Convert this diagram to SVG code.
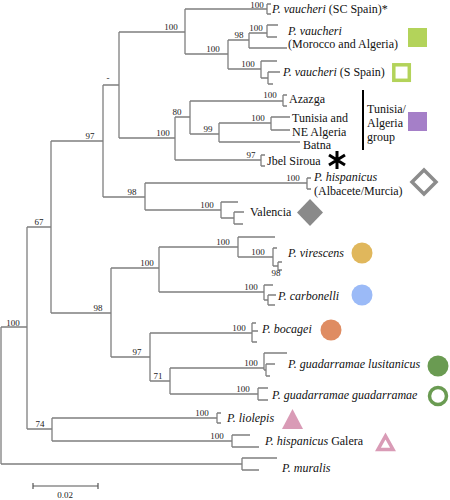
<svg xmlns="http://www.w3.org/2000/svg" width="450" height="500" viewBox="0 0 450 500">
<style>
.br{fill:none;stroke:#7f7f7f;stroke-width:1.3}
.bs{font-family:"Liberation Serif","Times New Roman",serif;font-size:9px;fill:#222;text-anchor:middle}
.lf{font-family:"Liberation Serif","Times New Roman",serif;font-size:12px;fill:#111}
.it{font-style:italic}
</style>
<rect width="450" height="500" fill="#fff"/>
<g id="connectors" class="br">
<path d="M1,327V464M1,327H27M1,464H242"/>
<path d="M27,227V429M27,227H51M27,429H52"/>
<path d="M52,418V441M52,418H217M52,441H232"/>
<path d="M217,413V423M217,413H221M217,423H221"/>
<path d="M232,435V447M232,435H250M232,447H259"/>
<path d="M242,458V470M242,458H277M242,470H259"/>
<path d="M51,141V313M51,141H103M51,313H111"/>
<path d="M103,85V197M103,85H119M103,197H145"/>
<path d="M119,32V138M119,32H185M119,138H175"/>
<path d="M185,9V54M185,9H267M185,54H228"/>
<path d="M267,4V14M267,4H271M267,14H271"/>
<path d="M228,40V69M228,40H249M228,69H261"/>
<path d="M249,33V48M249,33H267M249,48H287"/>
<path d="M267,25V37M267,25H278M267,37H277"/>
<path d="M261,61V78M261,61H277M261,78H268"/>
<path d="M268,72V84M268,72H280M268,84H273"/>
<path d="M175,117V160M175,117H190M175,160H261"/>
<path d="M190,101V134M190,101H283M190,134H219"/>
<path d="M283,95V106M283,95H287M283,106H287"/>
<path d="M219,123V142M219,123H271M219,142H300"/>
<path d="M271,117V130M271,117H290M271,130H290"/>
<path d="M261,155V166M261,155H265M261,166H265"/>
<path d="M145,183V210M145,183H307M145,210H221"/>
<path d="M307,178V189M307,178H311M307,189H311"/>
<path d="M221,202V218M221,202H238M221,218H234"/>
<path d="M234,212V224M234,212H244M234,224H243"/>
<path d="M111,268V357M111,268H159M111,357H150"/>
<path d="M159,247V292M159,247H238M159,292H264"/>
<path d="M238,237V257M238,237H275M238,257H273"/>
<path d="M273,248V266M273,248H277M273,266H278"/>
<path d="M278,262V270M278,262H282M278,270H282"/>
<path d="M264,285V300M264,285H273M264,300H268"/>
<path d="M268,295V305M268,295H276M268,305H275"/>
<path d="M150,333V381M150,333H252M150,381H170"/>
<path d="M252,323V342M252,323H256M252,342H257M252,331H258"/>
<path d="M170,368V394M170,368H264M170,394H258"/>
<path d="M264,353V370M264,353H287M264,370H266"/>
<path d="M266,364V376M266,364H275M266,376H270"/>
<path d="M258,388V400M258,388H268M258,400H268"/>
</g>
<g id="support">
<text class="bs" x="13" y="326">100</text>
<text class="bs" x="39" y="225">67</text>
<text class="bs" x="40" y="427">74</text>
<text class="bs" x="90" y="139">97</text>
<text class="bs" x="108" y="81">-</text>
<text class="bs" x="171" y="30">100</text>
<text class="bs" x="163" y="136">100</text>
<text class="bs" x="257" y="8">100</text>
<text class="bs" x="213" y="52">100</text>
<text class="bs" x="239" y="38">98</text>
<text class="bs" x="256" y="31">100</text>
<text class="bs" x="248" y="67">100</text>
<text class="bs" x="177" y="115">80</text>
<text class="bs" x="208" y="132">99</text>
<text class="bs" x="270" y="98">100</text>
<text class="bs" x="258" y="121">100</text>
<text class="bs" x="251" y="158">97</text>
<text class="bs" x="132" y="195">98</text>
<text class="bs" x="293" y="181">100</text>
<text class="bs" x="207" y="208">100</text>
<text class="bs" x="147" y="266">100</text>
<text class="bs" x="223" y="245">100</text>
<text class="bs" x="258" y="255">100</text>
<text class="bs" x="276" y="276">98</text>
<text class="bs" x="251" y="290">100</text>
<text class="bs" x="98" y="311">98</text>
<text class="bs" x="137" y="355">97</text>
<text class="bs" x="239" y="331">100</text>
<text class="bs" x="158" y="379">71</text>
<text class="bs" x="251" y="366">100</text>
<text class="bs" x="243" y="392">100</text>
<text class="bs" x="202" y="416">100</text>
<text class="bs" x="217" y="439">100</text>
</g>
<g id="leaf-vaucheri-sc">
<text class="lf" x="272" y="13"><tspan class="it">P. vaucheri</tspan> (SC Spain)*</text>
</g>
<g id="leaf-vaucheri-morocco">
<text class="lf" x="288" y="35"><tspan class="it">P. vaucheri</tspan></text>
<text class="lf" x="288" y="48">(Morocco and Algeria)</text>
<rect x="408" y="28" width="19" height="19" fill="#b3d35a"/>
</g>
<g id="leaf-vaucheri-sspain">
<text class="lf" x="283" y="76"><tspan class="it">P. vaucheri</tspan> (S Spain)</text>
<rect x="393.8" y="64.8" width="15.5" height="15.5" fill="none" stroke="#b3d35a" stroke-width="3.5"/>
</g>
<g id="leaf-azazga">
<text class="lf" x="289" y="103">Azazga</text>
</g>
<g id="leaf-tunisia">
<text class="lf" x="292" y="122">Tunisia and</text>
<text class="lf" x="292" y="136">NE Algeria</text>
</g>
<g id="leaf-batna">
<text class="lf" x="303" y="149">Batna</text>
</g>
<g id="group-tunisia-algeria">
<line x1="363" y1="90" x2="363" y2="150" stroke="#000" stroke-width="2"/>
<text class="lf" x="367" y="113">Tunisia/</text>
<text class="lf" x="367" y="127">Algeria</text>
<text class="lf" x="367" y="141">group</text>
<rect x="408" y="112" width="19" height="19" fill="#a57fc8"/>
</g>
<g id="leaf-jbel">
<text class="lf" x="267" y="165">Jbel Siroua</text>
<path d="M337,151V169M329,155L345,165M329,165L345,155" stroke="#000" stroke-width="3" fill="none"/>
</g>
<g id="leaf-hispanicus-am">
<text class="lf" x="314" y="181"><tspan class="it">P. hispanicus</tspan></text>
<text class="lf" x="314" y="195">(Albacete/Murcia)</text>
<polygon points="424,170 436,182 424,194 412,182" fill="none" stroke="#8c8c8c" stroke-width="3.5"/>
</g>
<g id="leaf-valencia">
<text class="lf" x="250" y="216">Valencia</text>
<polygon points="310,199 323,212.5 310,226 297,212.5" fill="#8a8a8a"/>
</g>
<g id="leaf-virescens">
<text class="lf it" x="288" y="257">P. virescens</text>
<circle cx="362" cy="253" r="10.5" fill="#e0b75c"/>
</g>
<g id="leaf-carbonelli">
<text class="lf it" x="278" y="300">P. carbonelli</text>
<circle cx="362" cy="295" r="10.5" fill="#9bbaf7"/>
</g>
<g id="leaf-bocagei">
<text class="lf it" x="262" y="333">P. bocagei</text>
<circle cx="331" cy="330" r="10.5" fill="#df8c62"/>
</g>
<g id="leaf-lusitanicus">
<text class="lf it" x="288" y="368">P. guadarramae lusitanicus</text>
<circle cx="438" cy="366" r="10.5" fill="#6a9b52"/>
</g>
<g id="leaf-guadarramae">
<text class="lf it" x="272" y="399">P. guadarramae guadarramae</text>
<circle cx="438" cy="396" r="8.5" fill="none" stroke="#6a9b52" stroke-width="3.5"/>
</g>
<g id="leaf-liolepis">
<text class="lf it" x="227" y="422">P. liolepis</text>
<polygon points="282,429 303,429 292.5,409" fill="#d99bb6"/>
</g>
<g id="leaf-galera">
<text class="lf" x="265" y="445"><tspan class="it">P. hispanicus</tspan> Galera</text>
<polygon points="378,449.5 393,449.5 385.5,436" fill="none" stroke="#d99bb6" stroke-width="3.5" stroke-linejoin="miter"/>
</g>
<g id="leaf-muralis">
<text class="lf it" x="282" y="472">P. muralis</text>
</g>
<g id="scale">
<path d="M33,486H98M33,483V489M98,483V489" stroke="#555" stroke-width="1.2" fill="none"/>
<text class="bs" x="65" y="498">0.02</text>
</g>
</svg>
